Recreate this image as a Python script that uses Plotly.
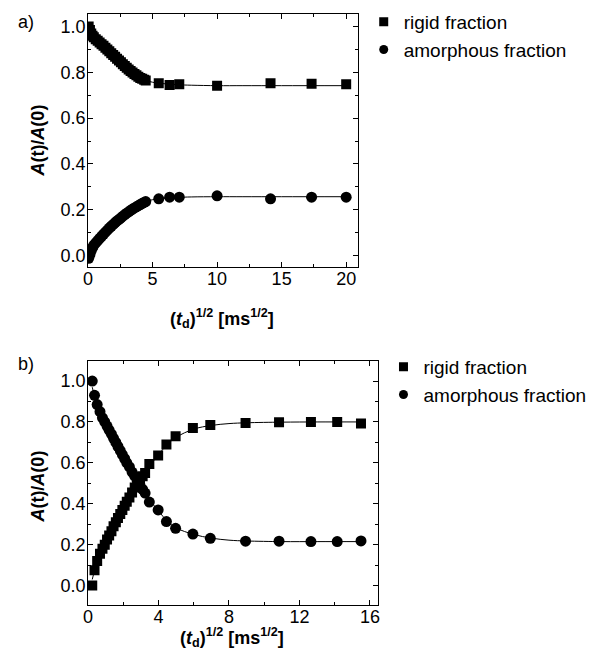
import plotly.graph_objects as go

# ---------------- panel a) ----------------
sqrt_td_a = [0.05, 0.15, 0.25, 0.35, 0.45, 0.6, 0.75, 0.9, 1.05, 1.2, 1.35, 1.5,
             1.65, 1.8, 1.95, 2.1, 2.25, 2.4, 2.55, 2.7, 2.85, 3.0, 3.15, 3.3,
             3.45, 3.6, 3.75, 3.9, 4.05, 4.2, 4.35, 4.47, 5.48, 6.32, 7.07,
             10.0, 14.14, 17.32, 20.0]
rigid_a = [1.0, 0.985, 0.97, 0.96, 0.953, 0.945, 0.938, 0.93, 0.923, 0.916,
           0.908, 0.9, 0.892, 0.884, 0.876, 0.868, 0.86, 0.852, 0.844, 0.836,
           0.828, 0.82, 0.813, 0.806, 0.799, 0.793, 0.787, 0.781, 0.776, 0.772,
           0.768, 0.765, 0.753, 0.745, 0.748, 0.742, 0.753, 0.75, 0.748]
amorph_a = [-0.012, 0.005, 0.022, 0.035, 0.045, 0.055, 0.065, 0.075, 0.084,
            0.093, 0.102, 0.111, 0.12, 0.128, 0.136, 0.144, 0.151, 0.158,
            0.165, 0.172, 0.179, 0.185, 0.191, 0.197, 0.203, 0.208, 0.213,
            0.218, 0.223, 0.228, 0.232, 0.236, 0.248, 0.255, 0.255, 0.261,
            0.248, 0.255, 0.255]

fit_x_a = [0.0, 0.5, 1.0, 1.5, 2.0, 2.5, 3.0, 3.5, 4.0, 4.5, 5.0, 6.0, 7.0,
           8.0, 10.0, 12.0, 15.0, 20.0]
fit_rigid_a = [1.0, 0.95, 0.925, 0.9, 0.876, 0.852, 0.82, 0.797, 0.777, 0.765,
               0.757, 0.75, 0.746, 0.744, 0.742, 0.742, 0.742, 0.742]
fit_amorph_a = [0.0, 0.05, 0.08, 0.11, 0.136, 0.158, 0.185, 0.203, 0.22, 0.235,
                0.244, 0.25, 0.254, 0.256, 0.257, 0.257, 0.257, 0.257]

# ---------------- panel b) ----------------
sqrt_td_b = [0.24, 0.37, 0.52, 0.68, 0.82, 0.95, 1.08, 1.2, 1.33, 1.45, 1.58,
             1.7, 1.83, 1.95, 2.08, 2.2, 2.35, 2.5, 2.65, 2.8, 2.95, 3.1, 3.24,
             3.48, 3.98, 4.45, 4.97, 5.95, 6.94, 8.94, 10.84, 12.65, 14.14,
             15.49]
rigid_b = [0.0, 0.075, 0.12, 0.155, 0.18, 0.2, 0.225, 0.245, 0.265, 0.29, 0.31,
           0.33, 0.35, 0.37, 0.39, 0.41, 0.43, 0.455, 0.48, 0.5, 0.52, 0.535,
           0.55, 0.595, 0.636, 0.69, 0.73, 0.77, 0.785, 0.795, 0.798, 0.8,
           0.8, 0.792]
amorph_b = [1.0, 0.93, 0.885, 0.85, 0.82, 0.8, 0.78, 0.76, 0.74, 0.72, 0.7,
            0.68, 0.66, 0.64, 0.62, 0.6, 0.58, 0.555, 0.535, 0.51, 0.49, 0.47,
            0.452, 0.408, 0.37, 0.313, 0.28, 0.252, 0.231, 0.217, 0.217,
            0.215, 0.215, 0.218]

fit_x_b = [0.24, 0.5, 1.0, 1.5, 2.0, 2.5, 3.0, 3.5, 4.0, 4.5, 5.0, 6.0, 7.0,
           8.0, 9.0, 11.0, 13.0, 15.49]
fit_rigid_b = [0.03, 0.11, 0.21, 0.3, 0.37, 0.455, 0.52, 0.585, 0.64, 0.69,
               0.725, 0.765, 0.783, 0.792, 0.796, 0.799, 0.8, 0.8]
fit_amorph_b = [0.97, 0.89, 0.79, 0.71, 0.64, 0.555, 0.49, 0.42, 0.365, 0.315,
                0.282, 0.25, 0.232, 0.222, 0.218, 0.215, 0.215, 0.215]

legend_labels = ["rigid fraction", "amorphous fraction"]

W, H = 594, 654
FONT = "Arial, 'Liberation Sans', Helvetica, sans-serif"
INK = "black"

fig = go.Figure()


def add_panel(xs, rigid, amorph, fx, frigid, famorph, xa, ya, leg):
    for fy in (frigid, famorph):
        fig.add_trace(go.Scatter(x=fx, y=fy, mode="lines", xaxis=xa, yaxis=ya,
                                 line=dict(color=INK, width=1, shape="spline"),
                                 showlegend=False, hoverinfo="skip"))
    fig.add_trace(go.Scatter(x=xs, y=rigid, mode="markers", xaxis=xa, yaxis=ya,
                             marker=dict(symbol="square", size=10, color=INK),
                             showlegend=False, name=legend_labels[0]))
    fig.add_trace(go.Scatter(x=xs, y=amorph, mode="markers", xaxis=xa, yaxis=ya,
                             marker=dict(symbol="circle", size=11, color=INK),
                             showlegend=False, name=legend_labels[1]))
    # legend entries with smaller symbols
    for sym, lab in zip(("square", "circle"), legend_labels):
        fig.add_trace(go.Scatter(x=[None], y=[None], mode="markers",
                                 xaxis=xa, yaxis=ya, legend=leg, name=lab,
                                 marker=dict(symbol=sym, size=9, color=INK)))


add_panel(sqrt_td_a, rigid_a, amorph_a, fit_x_a, fit_rigid_a, fit_amorph_a,
          "x", "y", "legend")
add_panel(sqrt_td_b, rigid_b, amorph_b, fit_x_b, fit_rigid_b, fit_amorph_b,
          "x2", "y2", "legend2")


def px_x(p):
    return p / W


def px_y(p):
    return 1 - p / H


axis_common = dict(showline=True, linecolor=INK, linewidth=1, mirror="ticks",
                   ticks="inside", ticklen=5, tickwidth=1, tickcolor=INK,
                   showgrid=False, zeroline=False,
                   tickfont=dict(family=FONT, size=18, color=INK))
xaxis_common = dict(ticklabelstandoff=-5, **axis_common)
yaxis_common = dict(ticklabelstandoff=-2, **axis_common)

fig.update_layout(
    width=W, height=H,
    margin=dict(l=0, r=0, t=0, b=0),
    paper_bgcolor="white", plot_bgcolor="white",
    font=dict(family=FONT, color=INK),
    xaxis=dict(domain=[px_x(84), px_x(357)], range=[0, 20.9], anchor="y",
               tick0=0, dtick=5,
               minor=dict(ticks="inside", ticklen=3, dtick=2.5, tickcolor=INK),
               **xaxis_common),
    yaxis=dict(domain=[px_y(267), px_y(14)], range=[-0.05, 1.055], anchor="x",
               tick0=0, dtick=0.2, tickformat=".1f",
               minor=dict(ticks="inside", ticklen=3, dtick=0.1, tickcolor=INK),
               **yaxis_common),
    xaxis2=dict(domain=[px_x(84), px_x(377)], range=[0, 16.43], anchor="y2",
                tick0=0, dtick=4,
                minor=dict(ticks="inside", ticklen=3, dtick=2, tickcolor=INK),
                **xaxis_common),
    yaxis2=dict(domain=[px_y(605), px_y(361)], range=[-0.095, 1.098],
                anchor="x2", tick0=0, dtick=0.2, tickformat=".1f",
                minor=dict(ticks="inside", ticklen=3, dtick=0.1, tickcolor=INK),
                **yaxis_common),
    legend=dict(x=px_x(363), y=px_y(3), xanchor="left", yanchor="top",
                bgcolor="rgba(0,0,0,0)", font=dict(family=FONT, size=19),
                itemsizing="trace", tracegroupgap=0),
    legend2=dict(x=px_x(383), y=px_y(348), xanchor="left", yanchor="top",
                 bgcolor="rgba(0,0,0,0)", font=dict(family=FONT, size=19),
                 itemsizing="trace", tracegroupgap=0),
)

xtitle = "<b>(<i>t</i><sub>d</sub>)<sup>1/2</sup> [ms<sup>1/2</sup>]</b>"
ytitle = "<b><i>A</i>(t)/<i>A</i>(0)</b>"

annots = [
    dict(text="a)", x=px_x(21), y=px_y(22)),
    dict(text="b)", x=px_x(21), y=px_y(364)),
    dict(text=xtitle, x=px_x(220), y=px_y(318)),
    dict(text=xtitle, x=px_x(230), y=px_y(637)),
    dict(text=ytitle, x=px_x(33), y=px_y(141), textangle=-90),
    dict(text=ytitle, x=px_x(33), y=px_y(487), textangle=-90),
]
for a in annots:
    fig.add_annotation(xref="paper", yref="paper", showarrow=False,
                       xanchor="center", yanchor="middle",
                       font=dict(family=FONT, size=18, color=INK), **a)

fig.write_html("out.html")
